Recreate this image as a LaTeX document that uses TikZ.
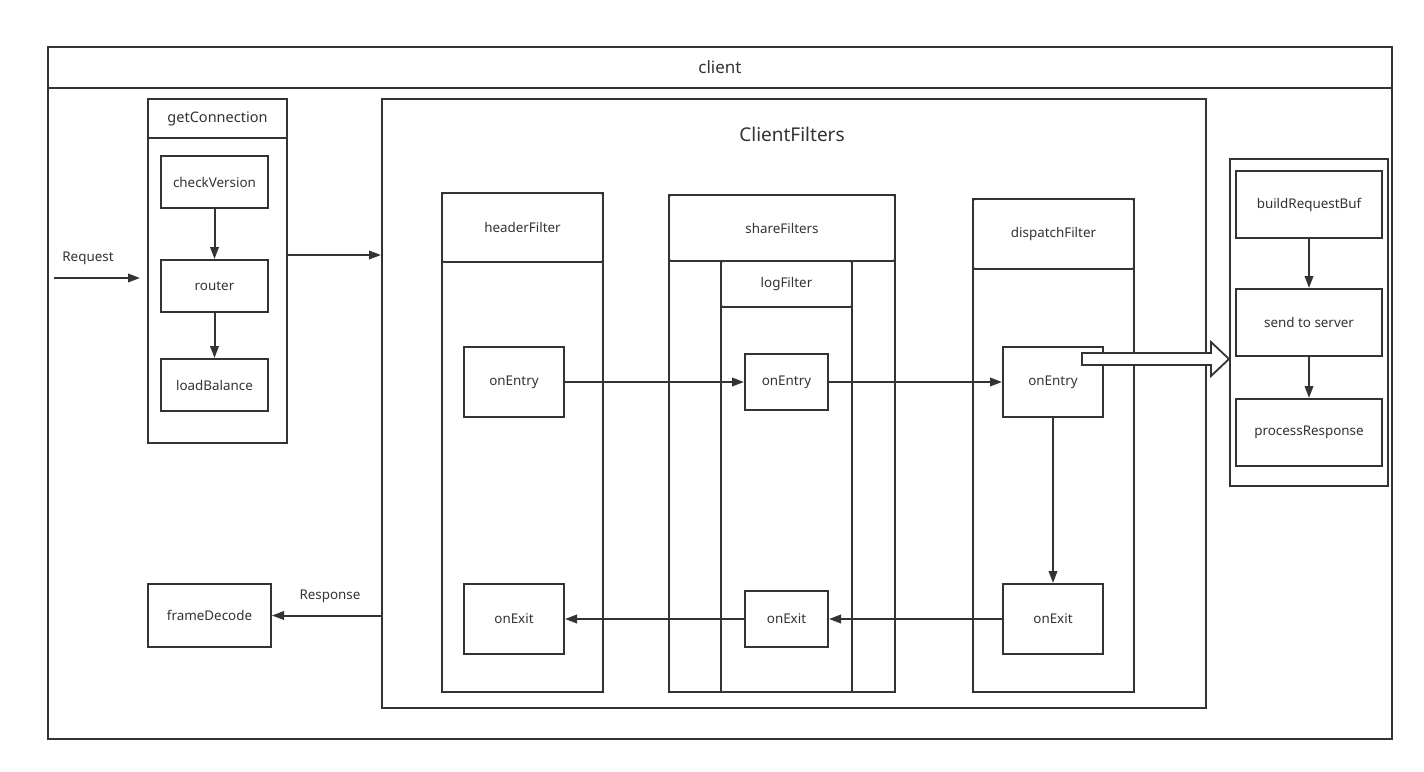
\documentclass[tikz,border=0pt]{standalone}
\usepackage{fontspec}
\setmainfont{Noto Sans}
\usetikzlibrary{arrows.meta,calc}
\definecolor{lc}{HTML}{333333}
\begin{document}
\begin{tikzpicture}[x=1pt,y=-1pt,
  box/.style={draw=lc, line width=2pt, inner sep=0pt, text=lc, font=\fontsize{13.4}{15}\selectfont},
  cont/.style={draw=lc, line width=1.8pt, inner sep=0pt},
  hdr/.style={draw=lc, line width=1.8pt, rounded corners=2pt, inner sep=0pt, text=lc, font=\fontsize{13.4}{15}\selectfont},
  arr/.style={draw=lc, line width=2pt, -{Triangle[length=12pt,width=8.5pt]}},
  lbl/.style={text=lc, font=\fontsize{13.4}{15}\selectfont, inner sep=0pt}]
\useasboundingbox[fill=white] (0,0) rectangle (1424,771);
% client
\node[box, minimum width=1344pt, minimum height=692pt] (client) at (720,393) {};
\node[box, minimum width=1344pt, minimum height=41pt, font=\fontsize{17}{19}\selectfont] (clientH) at (720,67.5) {client};
% getConnection
\node[box, minimum width=139pt, minimum height=344pt] (gc) at (217.5,271) {};
\node[box, minimum width=139pt, minimum height=39pt, font=\fontsize{14.5}{16}\selectfont] (gcH) at (217.5,118.5) {getConnection};
\node[box, minimum width=107pt, minimum height=52pt] (cv) at (214.5,182) {checkVersion};
\node[box, minimum width=107pt, minimum height=52pt] (rt) at (214.5,286) {router};
\node[box, minimum width=107pt, minimum height=52pt] (lb) at (214.5,385) {loadBalance};
\draw[arr] (cv) -- (rt);
\draw[arr] (rt) -- (lb);
% request
\coordinate (reqS) at (54,278);
\coordinate (reqE) at (140,278);
\draw[arr] (reqS) -- (reqE);
\node[lbl] (reqL) at (88,258) {Request};
% ClientFilters
\node[box, minimum width=824pt, minimum height=609pt] (cf) at (794,403.5) {};
\node[lbl, font=\fontsize{19}{22}\selectfont] (cfT) at (792,134) {ClientFilters};
\draw[arr] ([yshift=16pt]gc.east) -- ([yshift=16pt]gc.east -| cf.west);
% headerFilter
\node[cont, minimum width=161pt, minimum height=499pt] (hf) at (522.5,442.5) {};
\node[hdr, minimum width=161pt, minimum height=69pt] (hfH) at (522.5,227.5) {headerFilter};
% shareFilters
\node[cont, minimum width=226pt, minimum height=497pt] (sf) at (782,443.5) {};
\node[hdr, minimum width=226pt, minimum height=66pt] (sfH) at (782,228) {shareFilters};
\node[cont, minimum width=131pt, minimum height=431pt] (lf) at (786.5,476.5) {};
\node[hdr, minimum width=131pt, minimum height=46pt] (lfH) at (786.5,284) {logFilter};
% dispatchFilter
\node[cont, minimum width=161pt, minimum height=493pt] (df) at (1053.5,445.5) {};
\node[hdr, minimum width=161pt, minimum height=70pt] (dfH) at (1053.5,234) {dispatchFilter};
% entries / exits
\node[box, minimum width=100pt, minimum height=70pt, fill=white] (en1) at (514,382) {onEntry};
\node[box, minimum width=83pt, minimum height=56pt, fill=white] (en2) at (786.5,382) {onEntry};
\node[box, minimum width=100pt, minimum height=70pt, fill=white] (en3) at (1053,382) {onEntry};
\node[box, minimum width=100pt, minimum height=70pt, fill=white] (ex1) at (514,619) {onExit};
\node[box, minimum width=83pt, minimum height=56pt, fill=white] (ex2) at (786.5,619) {onExit};
\node[box, minimum width=100pt, minimum height=70pt, fill=white] (ex3) at (1053,619) {onExit};
\draw[arr] (en1) -- (en2);
\draw[arr] (en2) -- (en3);
\draw[arr] (en3) -- (ex3);
\draw[arr] (ex3) -- (ex2);
\draw[arr] (ex2) -- (ex1);
% response
\node[box, minimum width=123pt, minimum height=63pt] (fd) at (209.5,615.5) {frameDecode};
\draw[arr] (cf.west |- fd) -- (fd.east);
\node[lbl] (resL) at (330,596) {Response};
% right panel
\node[box, minimum width=158pt, minimum height=327pt] (rp) at (1309,322.5) {};
\node[box, minimum width=146pt, minimum height=67pt] (brb) at (1309,204.5) {buildRequestBuf};
\node[box, minimum width=146pt, minimum height=67pt] (sts) at (1309,322.5) {send to server};
\node[box, minimum width=146pt, minimum height=67pt] (pr) at (1309,432.5) {processResponse};
\draw[arr] (brb) -- (sts);
\draw[arr] (sts) -- (pr);
% hollow arrow
\coordinate (tail) at (1082,359);
\coordinate (tip) at ([yshift=-36.5pt]rp.west);
\draw[lc, line width=1.8pt, fill=white, line join=miter]
  ($(tail)+(0,-6)$) -- ($(tip)+(-18,-6)$) -- ($(tip)+(-18,-17)$) -- (tip)
  -- ($(tip)+(-18,17)$) -- ($(tip)+(-18,6)$) -- ($(tail)+(0,6)$) -- cycle;
\end{tikzpicture}
\end{document}
